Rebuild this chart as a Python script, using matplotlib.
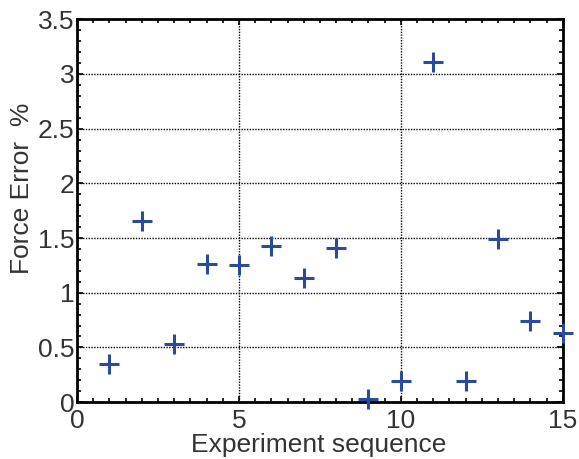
import matplotlib
matplotlib.use("Agg")
import matplotlib.pyplot as plt
from matplotlib.ticker import MultipleLocator, FuncFormatter

experiments = [1, 2, 3, 4, 5, 6, 7, 8, 9, 10, 11, 12, 13, 14, 15]
force_error = [0.35, 1.66, 0.53, 1.26, 1.25, 1.43, 1.13, 1.41, 0.03, 0.19, 3.11, 0.19, 1.49, 0.74, 0.63]
x_ticks = [0, 5, 10, 15]
y_ticks = [0, 0.5, 1, 1.5, 2, 2.5, 3, 3.5]

plt.rcParams['font.family'] = ['Liberation Sans', 'DejaVu Sans']
text_color = '#333333'
fs = 19

fig = plt.figure(figsize=(5.79, 4.59), dpi=100)
ax = fig.add_axes([0.133, 0.124, 0.839, 0.834])

ax.plot(experiments, force_error, linestyle='none', marker='+', markersize=14,
        markeredgewidth=2.2, color='#2c4a9c', clip_on=False, zorder=5)

ax.set_xlim(0, 15)
ax.set_ylim(0, 3.5)
ax.set_xticks(x_ticks)
ax.set_yticks(y_ticks)
ax.xaxis.set_minor_locator(MultipleLocator(0.5))
ax.yaxis.set_minor_locator(MultipleLocator(0.1))
fmt = FuncFormatter(lambda v, p: ('%g' % v))
ax.xaxis.set_major_formatter(fmt)
ax.yaxis.set_major_formatter(fmt)

ax.grid(True, which='major', color='black', linestyle=(0, (1, 1)), linewidth=1.0)
for s in ax.spines.values():
    s.set_linewidth(2.0)
    s.set_color('black')

ax.tick_params(which='both', direction='in', top=True, right=True, colors='black',
               labelcolor=text_color, labelsize=fs)
ax.tick_params(which='major', length=4, width=1.2)
ax.tick_params(which='minor', length=3, width=1.2)
ax.tick_params(axis='x', which='major', pad=5)
ax.tick_params(axis='y', which='major', pad=2)

fig.text(319 / 579, 1 - 452 / 459, 'Experiment sequence', fontsize=fs, color=text_color,
         ha='center', va='baseline')
fig.text(22 / 579, 1 - 188 / 459, 'Force Error  %', fontsize=fs, color=text_color,
         ha='center', va='center', rotation=90)

fig.savefig('out.png', dpi=100)
